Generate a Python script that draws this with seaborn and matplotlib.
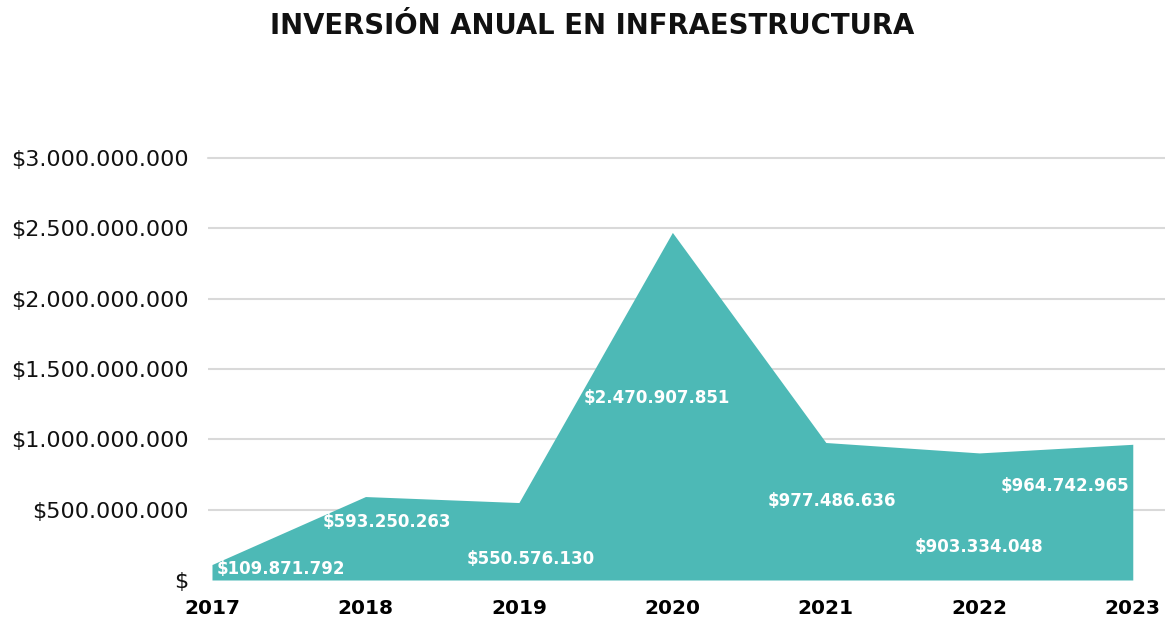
import matplotlib
matplotlib.use("Agg")
import matplotlib.pyplot as plt
from matplotlib.ticker import FuncFormatter
import pandas as pd
import seaborn as sns

# datos
anios = [2017, 2018, 2019, 2020, 2021, 2022, 2023]
inversion = [109871792, 593250263, 550576130, 2470907851, 977486636, 903334048, 964742965]
ticks_y = [0, 500000000, 1000000000, 1500000000, 2000000000, 2500000000, 3000000000]

datos = pd.DataFrame({'Año': anios, 'Inversión': inversion})

sns.set_style('white')
plt.rcParams['font.family'] = ['DejaVu Sans']

color_area = '#4db9b6'

fig = plt.figure(figsize=(11.65, 6.18), dpi=100)
ax = fig.add_axes([208 / 1165, 38 / 618, 1 - 208 / 1165, (580 - 158) / 618])

# Área de inversión
sns.lineplot(data=datos, x='Año', y='Inversión', ax=ax, color=color_area, linewidth=0)
ax.fill_between(datos['Año'], datos['Inversión'], 0, color=color_area, linewidth=0, zorder=2)

ax.set_xlim(2016.974, 2023.21)
ax.set_ylim(0, 3000000000)
ax.set_yticks(ticks_y)
ax.set_xticks(anios)

def formato_pesos(v, pos):
    if v == 0:
        return '$'
    return '$' + f'{v:,.0f}'.replace(',', '.')

ax.yaxis.set_major_formatter(FuncFormatter(formato_pesos))
ax.grid(axis='y', color='#d9d9d9', linewidth=1.5, zorder=0)
ax.set_axisbelow(True)
# la linea superior completa, la de cero oculta bajo el area
ax.yaxis.get_gridlines()[-1].set_clip_on(False)
ax.yaxis.get_gridlines()[0].set_visible(False)
for lado in ax.spines.values():
    lado.set_visible(False)

ax.tick_params(axis='y', length=0, pad=14, labelsize=16, labelcolor='#111111')
ax.tick_params(axis='x', length=6, width=1.2, color='#cccccc', pad=8, labelsize=14.5, labelcolor='#000000')
for etiqueta in ax.get_xticklabels():
    etiqueta.set_fontweight('bold')
ax.set_xlabel('')
ax.set_ylabel('')

# Etiquetas de valores (desplazamientos en pixeles)
desplazamientos = [(5, -4), (21, -25), (12, -56), (-16, -166), (6, -58), (0, -94), (-4, -42)]
alineaciones = ['left', 'center', 'center', 'center', 'center', 'center', 'right']
for anio, valor, (dx, dy), ha in zip(anios, inversion, desplazamientos, alineaciones):
    ax.annotate(formato_pesos(valor, None), xy=(anio, valor), xytext=(dx * 0.72, dy * 0.72),
                textcoords='offset points', ha=ha, va='center', color='white',
                fontsize=12, fontweight='bold', zorder=5)

fig.text(592 / 1165, 1 - 26 / 618, 'INVERSIÓN ANUAL EN INFRAESTRUCTURA', ha='center', va='center',
         fontsize=19.8, fontweight='bold', color='#111111')

fig.savefig('out.png', dpi=100)
